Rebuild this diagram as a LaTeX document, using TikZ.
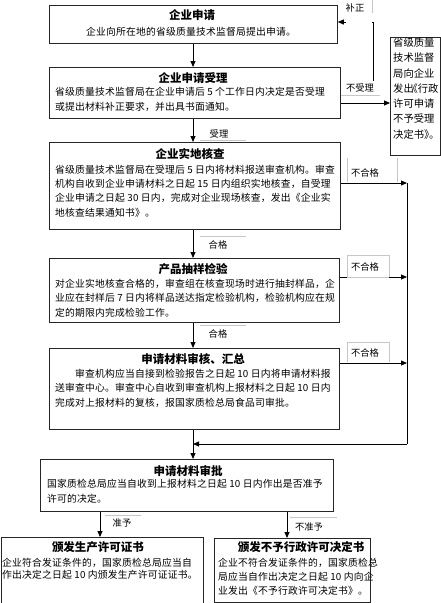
\documentclass[tikz,border=0pt]{standalone}
\usepackage{fontspec}
\setmainfont{Noto Sans CJK SC}
\newfontfamily\bodyfont{Noto Sans CJK SC}[LetterSpace=2]
\usetikzlibrary{arrows.meta,calc}
\begin{document}
\begin{tikzpicture}[x=1pt,y=-1pt,
  boxstyle/.style={draw=black!85,line width=0.8pt,inner sep=0pt,anchor=north west},
  ttl/.style={font=\fontsize{11.5}{14}\selectfont\bfseries,inner sep=0pt},
  bodytxt/.style={font=\bodyfont\fontsize{9.8}{12}\selectfont,inner sep=0pt,anchor=west},
  sidetxt/.style={font=\fontsize{10.3}{12}\selectfont,inner sep=0pt,anchor=west},
  lbl/.style={font=\fontsize{9.3}{11}\selectfont,inner sep=0pt},
  arr/.style={line width=0.8pt,-{Triangle[length=6pt,width=5pt]}},
  conn/.style={line width=0.8pt},
  faint/.style={draw=black!22,line width=0.6pt}]
\useasboundingbox (0,0) rectangle (441,603);
\fill[white] (0,0) rectangle (441,603);

% reference coordinates
\coordinate (xm) at (193,0);
\coordinate (rv) at (407,0);
\coordinate (fb) at (373,81);
\coordinate (yb2) at (0,103);
\coordinate (yb3) at (0,183);
\coordinate (yb4) at (0,277);
\coordinate (yb5) at (0,363);
\coordinate (yj) at (0,444);
\coordinate (yfb) at (0,22);

% boxes
\node[boxstyle,minimum width=288pt,minimum height=38pt] (b1) at (49,5) {};
\node[boxstyle,minimum width=291pt,minimum height=51pt] (b2) at (49,67) {};
\node[boxstyle,minimum width=291pt,minimum height=87pt] (b3) at (49,142) {};
\node[boxstyle,minimum width=290pt,minimum height=64pt] (b4) at (49,258) {};
\node[boxstyle,minimum width=290pt,minimum height=81pt] (b5) at (49,348) {};
\node[boxstyle,minimum width=293pt,minimum height=52pt] (b6) at (40,459) {};
\node[boxstyle,minimum width=202pt,minimum height=70pt] (b7) at (0.5,537) {};
\node[boxstyle,minimum width=156pt,minimum height=64pt] (b8) at (214,538) {};
\node[boxstyle,minimum width=50pt,minimum height=118pt] (rb) at (390,37) {};

% texts
\node[ttl] (t1) at (192,15) {企业申请};
\node[bodytxt,anchor=center] (d1) at (191,32) {企业向所在地的省级质量技术监督局提出申请。};

\node[ttl] (t2) at (193,78) {企业申请受理};
\node[bodytxt] (d2a) at (55,92) {省级质量技术监督局在企业申请后 5 个工作日内决定是否受理};
\node[bodytxt] (d2b) at (55,107) {或提出材料补正要求，并出具书面通知。};

\node[ttl] (t3) at (190,154) {企业实地核查};
\node[bodytxt] (d3a) at (55,170) {省级质量技术监督局在受理后 5 日内将材料报送审查机构。审查};
\node[bodytxt] (d3b) at (55,184) {机构自收到企业申请材料之日起 15 日内组织实地核查，自受理};
\node[bodytxt] (d3c) at (55,198) {企业申请之日起 30 日内，完成对企业现场核查，发出《企业实};
\node[bodytxt] (d3d) at (55,213) {地核查结果通知书》。};

\node[ttl] (t4) at (193,269) {产品抽样检验};
\node[bodytxt] (d4a) at (55,284) {对企业实地核查合格的，审查组在核查现场时进行抽封样品，企};
\node[bodytxt] (d4b) at (55,298) {业应在封样后 7 日内将样品送达指定检验机构，检验机构应在规};
\node[bodytxt] (d4c) at (55,313) {定的期限内完成检验工作。};

\node[ttl] (t5) at (193,359) {申请材料审核、汇总};
\node[bodytxt] (d5a) at (55,374) {\hspace*{20pt}审查机构应当自接到检验报告之日起 10 日内将申请材料报};
\node[bodytxt] (d5b) at (55,388) {送审查中心。审查中心自收到审查机构上报材料之日起 10 日内};
\node[bodytxt] (d5c) at (55,403) {完成对上报材料的复核，报国家质检总局食品司审批。};

\node[ttl] (t6) at (188,471) {申请材料审批};
\node[bodytxt] (d6a) at (47,484) {国家质检总局应当自收到上报材料之日起 10 日内作出是否准予};
\node[bodytxt] (d6b) at (47,499) {许可的决定。};

\node[ttl] (t7) at (98,547) {颁发生产许可证书};
\node[bodytxt] (d7a) at (2,563) {企业符合发证条件的，国家质检总局应当自};
\node[bodytxt] (d7b) at (2,575) {作出决定之日起 10 内颁发生产许可证证书。};

\node[ttl] (t8) at (301,547) {颁发不予行政许可决定书};
\node[bodytxt] (d8a) at (218,563) {企业不符合发证条件的，国家质检总};
\node[bodytxt] (d8b) at (218,577) {局应当自作出决定之日起 10 内向企};
\node[bodytxt] (d8c) at (218,591) {业发出《不予行政许可决定书》。};

\node[sidetxt] (r1) at (393,43) {省级质量};
\node[sidetxt] (r2) at (393,58) {技术监督};
\node[sidetxt] (r3) at (393,74) {局向企业};
\node[sidetxt] (r4) at (393,89) {发出\makebox[4pt][r]{《}行政};
\node[sidetxt] (r5) at (393,104) {许可申请};
\node[sidetxt] (r6) at (393,119) {不予受理};
\node[sidetxt] (r7) at (393,135) {决定书\makebox[5pt][l]{》}\makebox[5pt][l]{。}};

% connectors: main flow
\draw[arr] (b1.south -| xm) -- (b2.north -| xm);
\draw[arr] (b2.south -| xm) -- (b3.north -| xm);
\draw[arr] (b3.south -| xm) -- (b4.north -| xm);
\draw[arr] (b4.south -| xm) -- (b5.north -| xm);
\draw[arr] (b5.south -| xm) -- (b6.north -| xm);

% not accepted / correction
\draw[arr] (b2.east |- yb2) -- (rb.west |- yb2);
\draw[arr] (fb) -- (fb |- yfb) -- (b1.east |- yfb);
\node[fill=white,inner sep=0pt,minimum width=26pt,minimum height=26pt] (wb) at (359,12) {};
\draw[faint] (372,0) -- (372,13);
\node[lbl] (l0) at (355,8) {补正};
\node[lbl] (l1) at (360,88) {不受理};
\draw[faint] (b2.east |- 0,95) -- (380,95);

% failures to the right rail
\draw[arr] (b3.east |- yb3) -- (rv |- yb3);
\draw[arr] (b4.east |- yb4) -- (rv |- yb4);
\draw[arr] (b5.east |- yb5) -- (rv |- yb5);
\draw[conn] (rv |- yb3) -- (rv |- yj);
\draw[arr] (rv |- yj) -- (xm |- yj);

\node[lbl] (l3) at (365,173) {不合格};
\draw[faint] (347,158) -- (347,182) (397,158) -- (397,182);
\node[lbl] (l4) at (365,267) {不合格};
\draw[faint] (389,277) -- (389,255) -- (347,255) -- (347,277) -- (389,277);
\node[lbl] (l5) at (365,353) {不合格};
\draw[faint] (389,362) -- (389,342) -- (347,342) -- (347,362);

% pass labels
\node[lbl] (l2) at (219,134) {受理};
\draw[faint] (200,140) -- (246,140);
\node[lbl] (lg1) at (218,245) {合格};
\draw[faint] (200,236) -- (246,236);
\node[lbl] (lg2) at (218,334) {合格};
\draw[faint] (200,325) -- (246,325);

% decision
\coordinate (xl) at (100,0);
\coordinate (xr) at (287,0);
\draw[arr] (b6.south -| xl) -- (b7.north -| xl);
\draw[arr] (b6.south -| xr) -- (b8.north -| xr);
\node[lbl] (l6) at (122,523) {准予};
\draw[faint] (105,515) -- (141,515);
\node[lbl] (l7) at (309,527) {不准予};
\draw[faint] (290,517) -- (337,517);
\end{tikzpicture}
\end{document}
